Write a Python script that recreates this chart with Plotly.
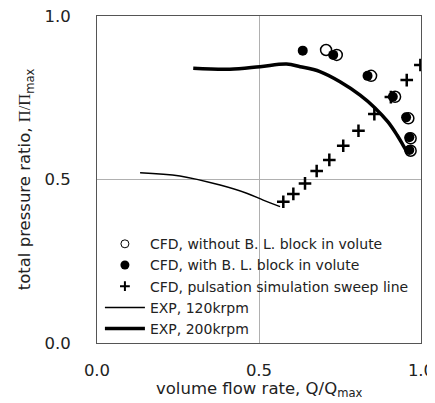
import plotly.graph_objects as go

# CFD, without B.L. block in volute (open circles)
open_x = [0.707, 0.740, 0.846, 0.920, 0.961, 0.968, 0.968]
open_y = [0.896, 0.881, 0.817, 0.753, 0.687, 0.626, 0.588]

# CFD, with B.L. block in volute (filled circles)
fill_x = [0.635, 0.729, 0.835, 0.913, 0.954, 0.964, 0.964]
fill_y = [0.894, 0.881, 0.817, 0.753, 0.690, 0.629, 0.590]

# CFD, pulsation simulation sweep line (crosses)
sweep_x = [0.575, 0.606, 0.642, 0.678, 0.717, 0.760, 0.807, 0.856, 0.907, 0.956, 0.998]
sweep_y = [0.432, 0.456, 0.488, 0.526, 0.560, 0.603, 0.649, 0.700, 0.752, 0.804, 0.850]

# EXP, 120krpm
exp120_x = [0.133, 0.256, 0.380, 0.462, 0.513, 0.565]
exp120_y = [0.521, 0.511, 0.483, 0.458, 0.437, 0.417]

# EXP, 200krpm
exp200_x = [0.297, 0.410, 0.503, 0.585, 0.627, 0.688, 0.750, 0.812, 0.858, 0.898, 0.926, 0.944, 0.957]
exp200_y = [0.840, 0.837, 0.845, 0.853, 0.845, 0.830, 0.799, 0.758, 0.719, 0.676, 0.636, 0.606, 0.584]

ticks = [0.0, 0.5, 1.0]
tick_text = ["0.0", "0.5", "1.0"]

FONT = "DejaVu Sans, Verdana, sans-serif"
TXT = "#222222"

fig = go.Figure()
fig.add_trace(go.Scatter(x=sweep_x, y=sweep_y, mode="markers", showlegend=False,
                         marker=dict(symbol="cross-thin", size=9, color="black",
                                     line=dict(width=2.5, color="black"))))
fig.add_trace(go.Scatter(x=exp120_x, y=exp120_y, mode="lines", showlegend=False,
                         line=dict(color="black", width=1.5, shape="spline")))
fig.add_trace(go.Scatter(x=exp200_x, y=exp200_y, mode="lines", showlegend=False,
                         line=dict(color="black", width=3.5, shape="spline")))
fig.add_trace(go.Scatter(x=open_x, y=open_y, mode="markers", showlegend=False,
                         marker=dict(symbol="circle", size=11, color="white",
                                     line=dict(width=1.5, color="black"))))
fig.add_trace(go.Scatter(x=fill_x, y=fill_y, mode="markers", showlegend=False,
                         marker=dict(symbol="circle", size=10, color="black")))

# legend-only entries
fig.add_trace(go.Scatter(x=[None], y=[None], mode="markers", name="CFD, without B. L. block in volute",
                         marker=dict(symbol="circle-open", size=8, color="black", line=dict(width=1))))
fig.add_trace(go.Scatter(x=[None], y=[None], mode="markers", name="CFD, with B. L. block in volute",
                         marker=dict(symbol="circle", size=9, color="black")))
fig.add_trace(go.Scatter(x=[None], y=[None], mode="markers", name="CFD, pulsation simulation sweep line",
                         marker=dict(symbol="cross-thin", size=7, color="black",
                                     line=dict(width=2, color="black"))))
fig.add_trace(go.Scatter(x=[None], y=[None], mode="lines", name="EXP, 120krpm",
                         line=dict(color="black", width=1.5)))
fig.add_trace(go.Scatter(x=[None], y=[None], mode="lines", name="EXP, 200krpm",
                         line=dict(color="black", width=3.5)))

axis_common = dict(range=[0, 1], tickvals=ticks, ticktext=tick_text,
                   showgrid=True, gridcolor="#b0b0b0", gridwidth=1,
                   showline=True, linecolor="#555555", linewidth=1, mirror=True,
                   zeroline=False, ticks="", automargin=False, ticklabeloverflow="allow",
                   tickfont=dict(size=16.5, color=TXT, family=FONT),
                   title_font=dict(size=16.5, color=TXT, family=FONT))

fig.update_xaxes(**axis_common, ticklabelstandoff=12)
fig.update_yaxes(**axis_common, ticklabelstandoff=22,
                 title_text="total pressure ratio, <span style='font-family:Liberation Serif'>Π/Π</span><sub>max</sub>",
                 title_standoff=9)

fig.add_annotation(text="volume flow rate, Q/Q<sub>max</sub>", xref="paper", yref="paper",
                   x=0.5, y=-0.142, xanchor="center", yanchor="middle", showarrow=False,
                   font=dict(size=16.5, color=TXT, family=FONT))

# the page body adds an 8px margin, so the figure is sized and offset to compensate
fig.update_layout(
    width=427, height=395,
    margin=dict(l=89, r=14, t=8, b=60),
    plot_bgcolor="white", paper_bgcolor="white",
    font=dict(family=FONT, color=TXT),
    legend=dict(x=0.009, y=0.351, xanchor="left", yanchor="top",
                bgcolor="rgba(0,0,0,0)", font=dict(size=14, color=TXT, family=FONT),
                itemwidth=40, tracegroupgap=0),
)

fig.write_html("out.html")
